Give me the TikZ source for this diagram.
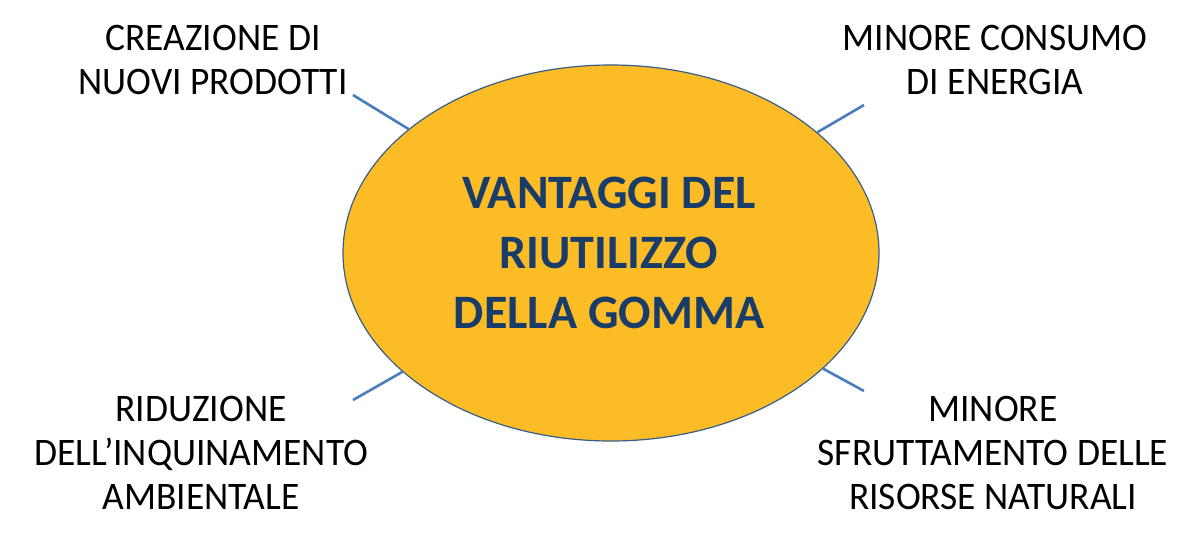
\documentclass[tikz,border=0pt]{standalone}
\usepackage{fontspec}
\setmainfont{Carlito}
\newfontfamily\labelfont{Carlito}[FakeStretch=0.96]
\usetikzlibrary{shapes.geometric}
\definecolor{gommafill}{RGB}{251,188,38}
\definecolor{gommaedge}{RGB}{56,93,138}
\definecolor{stubblue}{RGB}{74,126,187}
\definecolor{titleblue}{RGB}{26,60,104}

\begin{document}
\begin{tikzpicture}[x=1pt,y=-1pt,
  label/.style={align=center,inner sep=0pt,font=\labelfont\fontsize{39}{44}\selectfont},
  stub/.style={stubblue,line width=2.6pt}]
\useasboundingbox[fill=white] (0,0) rectangle (1197,539);
\node[ellipse,draw=gommaedge,line width=1.2pt,fill=gommafill,minimum width=536pt,minimum height=376pt,inner sep=0pt] (gomma) at (611,253) {};
\node[align=center,inner sep=0pt,text=titleblue,font=\fontsize{48}{60}\selectfont\bfseries] (titolo) at (609,253) {VANTAGGI DEL\\RIUTILIZZO\\DELLA GOMMA};
\node[label] (prodotti) at (213,60) {CREAZIONE DI\\NUOVI PRODOTTI};
\node[label] (energia) at (995,60) {MINORE CONSUMO\\DI ENERGIA};
\node[label] (inquinamento) at (201,452.5) {RIDUZIONE\\DELL’INQUINAMENTO\\AMBIENTALE};
\node[label] (risorse) at (993,452.5) {MINORE\\SFRUTTAMENTO DELLE\\RISORSE NATURALI};
\coordinate (tl) at (353,95);
\coordinate (tr) at (864,105);
\coordinate (bl) at (353,400);
\coordinate (br) at (864,391);
\draw[stub] (tl) -- (gomma);
\draw[stub] (tr) -- (gomma);
\draw[stub] (bl) -- (gomma);
\draw[stub] (br) -- (gomma);
\end{tikzpicture}
\end{document}
